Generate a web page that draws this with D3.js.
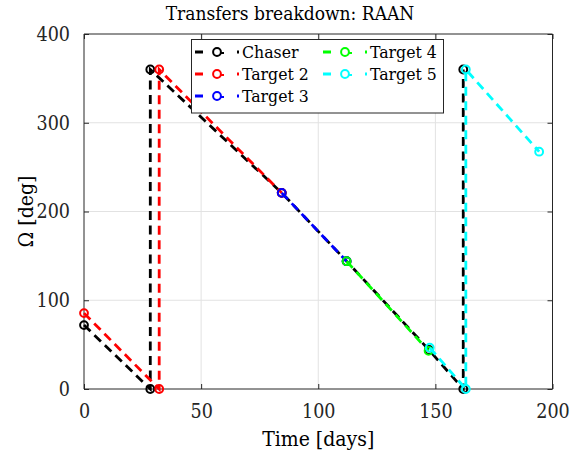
<!DOCTYPE html>
<html>
<head>
<meta charset="utf-8">
<script src="https://cdn.jsdelivr.net/npm/d3@7"></script>
<style>
  html, body { margin: 0; padding: 0; background: #fff; }
  svg { display: block; font-family: "DejaVu Serif Condensed", "DejaVu Serif", serif; }
</style>
</head>
<body>
<svg id="chart" width="575" height="452"></svg>
<script>
// Time (days) and RAAN (deg) along each transfer leg
const chaserTime = [0, 28.3, 28.3, 84.4, 112.1, 147.3, 161.9, 161.9];
const chaserRaan = [72, 0, 360, 221, 144, 44, 0, 360];
const target2Time = [0, 32.1, 32.1, 84.4];
const target2Raan = [85.5, 0, 360, 221];
const target3Time = [84.4, 112.1];
const target3Raan = [221, 144];
const target4Time = [112.1, 147.1];
const target4Raan = [144, 43];
const target5Time = [147.6, 163.0, 163.0, 194.3];
const target5Raan = [46.5, 0, 360, 267.4];

const seriesNames = ["Chaser", "Target 2", "Target 3", "Target 4", "Target 5"];
const seriesColors = ["#000000", "#ff0000", "#0000ff", "#00ff00", "#00ffff"];

const xTicks = [0, 50, 100, 150, 200];
const yTicks = [0, 100, 200, 300, 400];

const series = [
  [chaserTime, chaserRaan],
  [target2Time, target2Raan],
  [target3Time, target3Raan],
  [target4Time, target4Raan],
  [target5Time, target5Raan]
].map(([t, r], i) => ({
  name: seriesNames[i],
  color: seriesColors[i],
  points: t.map((d, j) => ({ t: d, raan: r[j] }))
}));

const svg = d3.select("#chart");
const plotLeft = 84, plotRight = 552.5, plotTop = 34, plotBottom = 389;
const axisColor = "#262626";
const serif = '"DejaVu Serif Condensed", "DejaVu Serif", serif';

const x = d3.scaleLinear().domain([0, 200]).range([plotLeft, plotRight]);
const y = d3.scaleLinear().domain([0, 400]).range([plotBottom, plotTop]);

// grid
const grid = svg.append("g");
grid.selectAll("line.gx").data(xTicks.slice(1, -1)).join("line")
  .attr("x1", d => x(d)).attr("x2", d => x(d))
  .attr("y1", plotTop).attr("y2", plotBottom)
  .attr("stroke", "#e2e2e2").attr("stroke-width", 1);
grid.selectAll("line.gy").data(yTicks.slice(1, -1)).join("line")
  .attr("x1", plotLeft).attr("x2", plotRight)
  .attr("y1", d => y(d)).attr("y2", d => y(d))
  .attr("stroke", "#e2e2e2").attr("stroke-width", 1);

// axes (ticks pointing inward, box on all sides)
const tickFont = 19.5;
const xAxis = d3.axisBottom(x).tickValues(xTicks).tickSize(-5).tickPadding(15);
const yAxis = d3.axisLeft(y).tickValues(yTicks).tickSize(-5).tickPadding(14);
const xTop = d3.axisTop(x).tickValues(xTicks).tickSize(-5).tickFormat("");
const yRight = d3.axisRight(y).tickValues(yTicks).tickSize(-5).tickFormat("");

function styleAxis(g) {
  g.selectAll("path").attr("stroke", axisColor).attr("stroke-width", 1);
  g.selectAll("line").attr("stroke", axisColor).attr("stroke-width", 1);
  g.selectAll("text").attr("fill", axisColor)
    .style("font-family", serif).style("font-size", tickFont + "px");
}

svg.append("g").attr("transform", `translate(0,${plotBottom})`).call(xAxis).call(styleAxis)
  .call(g => g.select(".domain").attr("d", `M${plotLeft},0H${plotRight}`));
svg.append("g").attr("transform", `translate(${plotLeft},0)`).call(yAxis).call(styleAxis)
  .call(g => g.select(".domain").attr("d", `M0,${plotBottom}V${plotTop}`));
svg.append("g").attr("transform", `translate(0,${plotTop})`).call(xTop).call(styleAxis)
  .call(g => g.select(".domain").attr("d", `M${plotLeft},0H${plotRight}`));
svg.append("g").attr("transform", `translate(${plotRight},0)`).call(yRight).call(styleAxis)
  .call(g => g.select(".domain").attr("d", `M0,${plotBottom}V${plotTop}`));

// series: dashed lines with open circle markers
const line = d3.line().x(d => x(d.t)).y(d => y(d.raan));
const dash = "9,5.5";
series.forEach(s => {
  const g = svg.append("g");
  g.append("path").datum(s.points)
    .attr("d", line)
    .attr("fill", "none")
    .attr("stroke", s.color)
    .attr("stroke-width", 2.8)
    .attr("stroke-dasharray", dash);
  g.selectAll("circle").data(s.points).join("circle")
    .attr("cx", d => x(d.t)).attr("cy", d => y(d.raan))
    .attr("r", 3.9)
    .attr("fill", "none")
    .attr("stroke", s.color)
    .attr("stroke-width", 2);
});

// title and axis labels
svg.append("text").attr("x", 290).attr("y", 20)
  .attr("text-anchor", "middle").attr("fill", "#000")
  .style("font-size", "19px")
  .text("Transfers breakdown: RAAN");
svg.append("text").attr("x", (plotLeft + plotRight) / 2).attr("y", 446)
  .attr("text-anchor", "middle").attr("fill", "#000")
  .style("font-size", "21px")
  .text("Time [days]");
svg.append("text")
  .attr("transform", `translate(33,${(plotTop + plotBottom) / 2}) rotate(-90)`)
  .attr("text-anchor", "middle").attr("fill", "#000")
  .style("font-size", "21px")
  .text("Ω [deg]");

// legend, two columns filled column-wise
const legend = svg.append("g");
legend.append("rect")
  .attr("x", 191.5).attr("y", 39.5).attr("width", 252).attr("height", 73.5)
  .attr("fill", "#fff").attr("stroke", axisColor).attr("stroke-width", 1);
const colX = [195, 323];
const rowY = [52, 74, 96];
series.forEach((s, i) => {
  const col = i < 3 ? 0 : 1;
  const row = i < 3 ? i : i - 3;
  const lx = colX[col], ly = rowY[row];
  const item = legend.append("g");
  item.append("line")
    .attr("x1", lx).attr("x2", lx + 44).attr("y1", ly).attr("y2", ly)
    .attr("stroke", s.color).attr("stroke-width", 2.8)
    .attr("stroke-dasharray", "8,14,0,0,0,20,2");
  item.append("circle")
    .attr("cx", lx + 22).attr("cy", ly).attr("r", 3.9)
    .attr("fill", "none").attr("stroke", s.color).attr("stroke-width", 2);
  item.append("line")
    .attr("x1", lx + 25).attr("x2", lx + 29).attr("y1", ly + 1).attr("y2", ly + 1)
    .attr("stroke", s.color).attr("stroke-width", 2);
  item.append("text")
    .attr("x", lx + 47).attr("y", ly + 6)
    .attr("fill", "#000").style("font-size", "17.5px")
    .text(s.name);
});
</script>
</body>
</html>
